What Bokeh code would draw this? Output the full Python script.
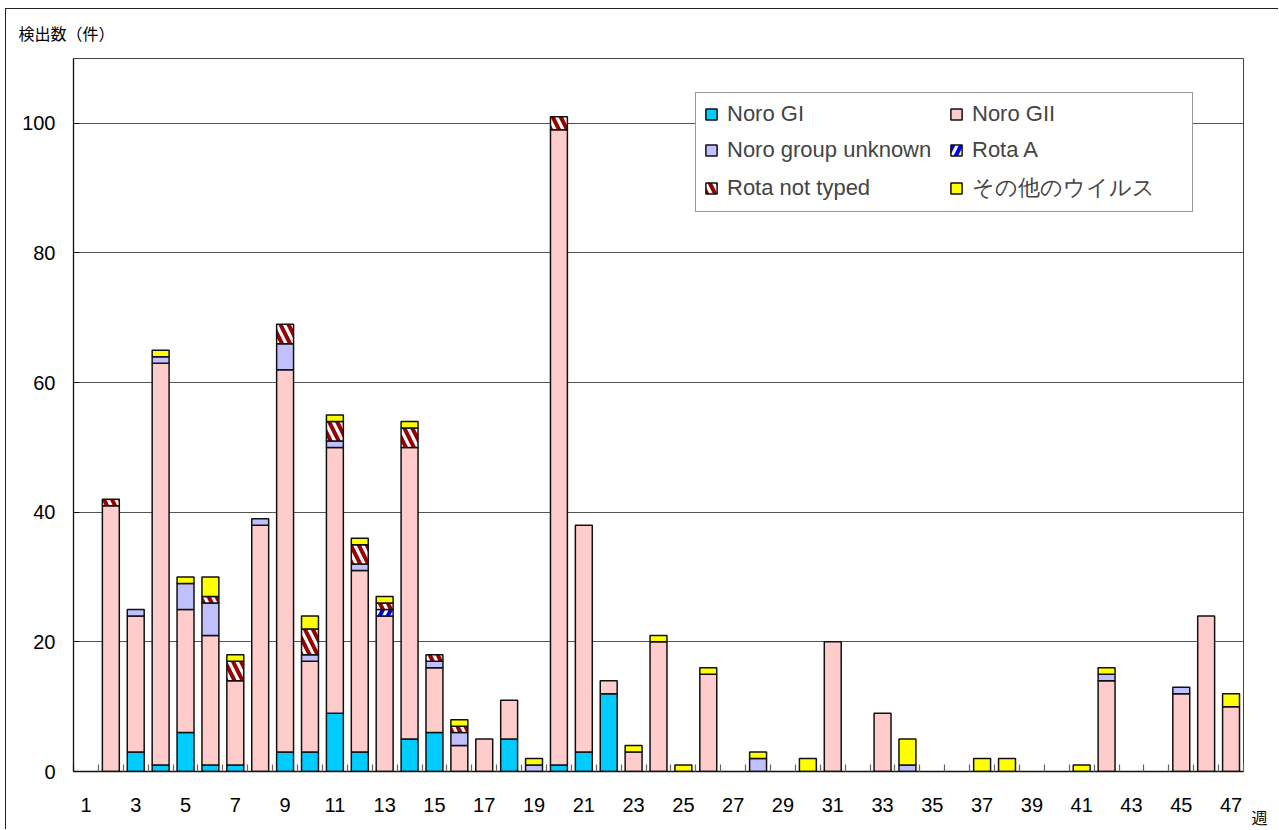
from bokeh.plotting import figure
from bokeh.models import (ColumnDataSource, FixedTicker, Legend, LegendItem, Label,
                          Range1d, CDSView, BooleanFilter)
from bokeh.transform import stack
from bokeh.embed import file_html
from bokeh.resources import INLINE

# Weekly virus detections (weeks 1-47)
weeks = list(range(1, 48))

noro_gi = [0, 0, 3, 1, 6, 1, 1, 0, 3, 3, 9, 3, 0, 5, 6, 0, 0, 5, 0, 1, 3, 12, 0, 0,
           0, 0, 0, 0, 0, 0, 0, 0, 0, 0, 0, 0, 0, 0, 0, 0, 0, 0, 0, 0, 0, 0, 0]
noro_gii = [0, 41, 21, 62, 19, 20, 13, 38, 59, 14, 41, 28, 24, 45, 10, 4, 5, 6, 0, 98, 35, 2, 3, 20,
            0, 15, 0, 0, 0, 0, 20, 0, 9, 0, 0, 0, 0, 0, 0, 0, 0, 14, 0, 0, 12, 24, 10]
noro_unknown = [0, 0, 1, 1, 4, 5, 0, 1, 4, 1, 1, 1, 0, 0, 1, 2, 0, 0, 1, 0, 0, 0, 0, 0,
                0, 0, 0, 2, 0, 0, 0, 0, 0, 1, 0, 0, 0, 0, 0, 0, 0, 1, 0, 0, 1, 0, 0]
rota_a = [0, 0, 0, 0, 0, 0, 0, 0, 0, 0, 0, 0, 1, 0, 0, 0, 0, 0, 0, 0, 0, 0, 0, 0,
          0, 0, 0, 0, 0, 0, 0, 0, 0, 0, 0, 0, 0, 0, 0, 0, 0, 0, 0, 0, 0, 0, 0]
rota_not_typed = [0, 1, 0, 0, 0, 1, 3, 0, 3, 4, 3, 3, 1, 3, 1, 1, 0, 0, 0, 2, 0, 0, 0, 0,
                  0, 0, 0, 0, 0, 0, 0, 0, 0, 0, 0, 0, 0, 0, 0, 0, 0, 0, 0, 0, 0, 0, 0]
other_virus = [0, 0, 0, 1, 1, 3, 1, 0, 0, 2, 1, 1, 1, 1, 0, 1, 0, 0, 1, 0, 0, 0, 1, 1,
               1, 1, 0, 1, 0, 2, 0, 0, 0, 4, 0, 0, 2, 2, 0, 0, 1, 1, 0, 0, 0, 0, 2]

series_names = ["Noro GI", "Noro GII", "Noro group unknown", "Rota A",
                "Rota not typed", "その他のウイルス"]
y_ticks = [0, 20, 40, 60, 80, 100]
x_label_weeks = [w for w in weeks if w % 2 == 1]

cols = ["gi", "gii", "unk", "rota_a", "rota_nt", "other"]
source = ColumnDataSource(dict(week=weeks, gi=noro_gi, gii=noro_gii, unk=noro_unknown,
                               rota_a=rota_a, rota_nt=rota_not_typed, other=other_virus))

styles = [
    dict(fill_color="#00CCFF"),
    dict(fill_color="#FFCCCC"),
    dict(fill_color="#C0C0FF"),
    dict(fill_color="white", hatch_pattern="right_diagonal_line", hatch_color="#0000EE",
         hatch_scale=16, hatch_weight=4),
    dict(fill_color="white", hatch_pattern="left_diagonal_line", hatch_color="#990000",
         hatch_scale=16, hatch_weight=4),
    dict(fill_color="#FFFF00"),
]

p = figure(width=1273, height=821, output_backend="svg", toolbar_location=None,
           x_range=Range1d(0.5, 47.5), y_range=Range1d(0, 110),
           min_border_left=67, min_border_right=36, min_border_top=49, min_border_bottom=59,
           background_fill_color="white", border_fill_color="white")
p.styles = {"margin-left": "5px", "margin-top": "8px",
            "border-left": "1px solid #222", "border-top": "1px solid #222"}

p.outline_line_color = "#444444"
p.outline_line_width = 1

renderers = []
for i, (c, st) in enumerate(zip(cols, styles)):
    vals = source.data[c]
    view = CDSView(filter=BooleanFilter([v > 0 for v in vals]))
    r = p.vbar(x="week", width=0.68, bottom=stack(*cols[:i]), top=stack(*cols[:i + 1]),
               source=source, view=view, line_color="#111111", line_width=1.5, **st)
    renderers.append(r)

# axes
p.xgrid.grid_line_color = None
p.ygrid.grid_line_color = "#555555"
p.ygrid.grid_line_width = 1

p.yaxis.ticker = FixedTicker(ticks=y_ticks)
p.yaxis.axis_line_color = "#111111"
p.yaxis.axis_line_width = 1.3
p.yaxis.major_tick_in = 6
p.yaxis.major_tick_out = 0
p.yaxis.major_tick_line_color = "#111111"
p.yaxis.minor_tick_line_color = None
p.yaxis.major_label_standoff = 18
p.yaxis.major_label_text_font = "Liberation Sans"
p.yaxis.major_label_text_font_size = "20px"
p.yaxis.major_label_text_color = "black"

p.xaxis.ticker = FixedTicker(ticks=x_label_weeks,
                             minor_ticks=[w + 0.5 for w in range(0, 48)])
p.xaxis.axis_line_color = "#111111"
p.xaxis.axis_line_width = 1.5
p.xaxis.major_tick_line_color = None
p.xaxis.minor_tick_in = 7
p.xaxis.minor_tick_out = 0
p.xaxis.minor_tick_line_color = "#666666"
p.xaxis.minor_tick_line_width = 1.2
p.xaxis.major_label_standoff = 20
p.xaxis.major_label_text_font = "Liberation Sans"
p.xaxis.major_label_text_font_size = "20px"
p.xaxis.major_label_text_color = "black"

# axis captions: count unit above the frame, week unit in the right-hand panel
p.add_layout(Label(x=-55, y=26, x_units="screen", y_units="screen", text="検出数（件）",
                   text_font="Noto Sans CJK JP", text_font_size="16px",
                   text_baseline="middle", text_align="left", text_color="black"), "above")
p.add_layout(Label(x=8, y=-45, x_units="screen", y_units="screen", text="週",
                   text_font="Noto Sans CJK JP", text_font_size="16px",
                   text_baseline="middle", text_align="left", text_color="black"), "right")

legend = Legend(items=[LegendItem(label=n, renderers=[r]) for n, r in zip(series_names, renderers)],
                location=(622, 559), orientation="horizontal", ncols=2,
                glyph_width=14, glyph_height=14, label_standoff=9, label_height=25,
                label_width=212, spacing=10, padding=8, margin=0,
                label_text_font="Liberation Sans", label_text_font_size="22px",
                border_line_color="#333333", border_line_width=1,
                background_fill_color="white", background_fill_alpha=1)
p.add_layout(legend, "center")

open("out.html", "w").write(file_html(p, INLINE))
